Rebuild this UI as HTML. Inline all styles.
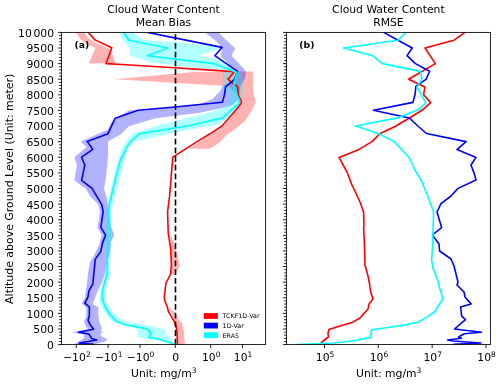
<!DOCTYPE html>
<html><head><meta charset="utf-8"><title>Cloud Water Content</title>
<style>html,body{margin:0;padding:0;background:#fff;}svg{display:block;}</style>
</head><body>
<svg width="500" height="385" viewBox="0 0 500 385" font-family="'DejaVu Sans', 'Liberation Sans', sans-serif">
<rect width="500" height="385" fill="#fff"/>
<defs><clipPath id="ca"><rect x="61.4" y="32.4" width="204.20000000000002" height="312.20000000000005"/></clipPath><clipPath id="cb"><rect x="286.4" y="32.4" width="204.0" height="312.20000000000005"/></clipPath></defs>
<g clip-path="url(#ca)">
<polygon points="75.8,32.4 80.8,39.6 89.8,45.6 95.5,47.8 88.8,63.4 115.7,63.2 110.2,49.2 93.0,41.5 88.0,38.0 83.8,32.4" fill="#ff0000" fill-opacity="0.3" stroke="none"/>
<polygon points="114.1,79.3 194.0,72.0 253.0,71.6 253.0,92.0 256.0,102.2 252.1,109.4 250.0,113.6 244.3,121.4 235.0,129.3 227.1,134.3 220.7,141.4 215.7,145.0 209.3,148.8 189.0,148.8 199.0,142.2 211.0,134.6 223.5,126.4 230.0,118.6 236.5,110.6 240.5,105.5 242.5,102.4 237.0,95.0 230.0,87.0 222.8,85.8" fill="#ff0000" fill-opacity="0.3" stroke="none"/>
<polygon points="170.6,235.1 174.5,243.7 180.0,265.5 175.2,274.8 170.6,274.0 171.4,264.0 170.6,248.4" fill="#ff0000" fill-opacity="0.3" stroke="none"/>
<polygon points="169.1,307.8 170.0,307.8 176.1,314.0 178.7,319.2 182.2,323.5 183.9,330.5 184.8,344.6 177.5,344.6 177.0,332.2 174.4,320.0 171.8,313.1" fill="#ff0000" fill-opacity="0.3" stroke="none"/>
<polygon points="204.6,32.4 218.4,32.4 225.6,39.4 235.2,48.4 231.6,55.8 246.0,71.2 245.6,75.6 244.4,79.2 242.0,83.6 240.4,86.8 239.5,94.0 239.0,100.0 230.3,106.1 200.0,112.7 155.6,118.2 128.8,126.2 120.8,134.2 108.0,141.4 108.0,155.0 107.2,165.2 105.6,180.4 104.0,188.4 106.4,196.4 108.0,204.4 111.2,227.4 114.4,235.1 110.9,241.8 110.4,251.4 107.5,262.0 104.0,276.0 101.6,283.2 97.6,291.2 94.4,299.2 92.8,304.0 98.4,307.2 98.4,316.0 99.2,322.0 102.0,328.4 100.4,330.8 102.8,332.2 100.0,334.0 102.0,336.8 107.6,339.2 105.2,341.6 94.0,344.6 74.0,344.6 83.6,338.4 84.4,334.8 71.6,332.2 88.0,329.2 86.0,326.8 84.0,322.0 86.4,315.2 86.4,308.0 81.6,303.2 84.8,298.4 85.6,292.0 87.2,282.4 88.0,272.8 90.0,262.0 93.6,256.2 99.2,245.0 101.6,235.1 97.6,227.4 100.0,211.4 98.4,204.4 90.4,196.4 85.6,188.4 74.4,180.4 76.8,165.2 74.4,157.2 86.4,147.0 80.8,141.4 108.0,129.4 111.2,122.2 128.8,110.2 138.0,110.2 174.8,107.0 200.0,104.0 211.9,99.5 219.8,91.6 222.8,85.8 232.4,81.2 236.8,73.2 237.0,71.2 220.8,56.8 222.0,47.2 214.8,40.0" fill="#0000ff" fill-opacity="0.3" stroke="none"/>
<polygon points="119.2,32.4 133.0,32.4 142.6,39.6 153.0,40.8 180.0,42.6 207.0,45.2 222.0,48.0 198.6,55.6 219.0,59.5 231.0,65.0 237.5,71.0 242.2,73.5 242.8,80.0 243.0,92.0 241.5,100.0 240.0,102.9 237.1,108.6 230.0,117.1 220.0,123.6 208.6,126.4 189.2,129.4 139.6,140.6 133.6,141.6 127.6,150.0 124.5,159.6 121.8,170.0 118.6,182.0 115.4,195.0 112.6,205.0 111.2,215.0 110.8,240.0 110.5,260.0 110.4,276.0 107.3,282.0 106.0,291.7 105.4,299.5 109.3,307.3 114.5,313.8 121.0,319.0 128.8,322.2 145.0,324.8 165.6,329.4 164.8,333.4 170.4,338.2 175.2,344.6 173.6,344.6 164.0,340.6 136.8,337.4 138.4,331.0 132.0,326.2 121.0,323.5 111.9,320.9 106.7,315.0 101.5,307.3 98.9,299.5 100.8,290.4 104.8,272.8 106.4,260.0 106.0,240.0 106.2,215.0 107.2,205.0 109.4,195.0 112.4,182.0 114.8,172.0 117.2,163.0 118.4,159.6 121.6,148.8 127.6,139.2 133.0,133.8 139.6,131.4 160.0,124.8 210.0,112.6 226.0,106.0 230.0,96.0 222.8,86.0 222.8,71.5 195.0,67.6 175.0,65.4 151.0,62.4 129.4,55.2 129.4,48.0 123.4,40.8" fill="#00ffff" fill-opacity="0.3" stroke="none"/>
<polyline points="88.3,32.4 95.0,39.9 111.8,47.8 106.1,63.6 130.0,65.0 170.0,67.5 215.0,70.4 234.3,71.8 228.0,79.2 232.0,82.8 237.6,86.6 238.3,94.9 241.6,102.4 239.5,105.5 235.4,110.4 228.7,118.2 222.0,126.0 210.0,133.8 197.1,141.6 184.9,149.4 172.8,157.1 169.7,195.0 167.6,211.6 168.2,232.8 170.6,248.4 171.4,264.0 170.6,274.0 165.9,283.4 164.3,297.4 164.8,300.9 167.4,307.0 168.3,311.3 171.8,317.4 174.4,321.8 176.1,326.1 177.0,332.2 177.5,344.6" fill="none" stroke="#ff0000" stroke-width="1.6" stroke-linejoin="round" stroke-linecap="butt"/>
<polyline points="147.5,32.4 222.0,47.4 214.8,55.7 237.2,71.1 236.8,73.2 234.8,78.8 232.4,81.2 225.6,86.8 224.4,94.9 222.4,102.2 174.8,107.0 138.0,110.2 115.2,118.2 108.0,133.7 87.2,141.4 92.8,149.4 81.6,157.2 84.8,165.2 81.6,180.4 92.0,188.4 96.8,196.4 101.6,204.4 103.2,211.4 100.8,227.4 105.6,235.1 102.4,243.4 100.8,251.4 95.2,259.4 94.4,268.0 92.8,284.0 88.8,291.2 88.0,296.8 84.8,303.2 89.4,307.0 89.4,315.4 88.0,320.3 90.0,324.4 93.6,329.2 78.4,332.2 88.8,334.0 90.4,336.4 91.6,338.4 96.8,340.0 79.2,343.0 94.0,344.4" fill="none" stroke="#0000ff" stroke-width="1.6" stroke-linejoin="round" stroke-linecap="butt"/>
<polyline points="123.6,32.4 128.8,40.2 167.8,48.0 147.4,55.8 213.6,63.6 236.8,72.4 236.4,75.6 235.2,79.2 233.6,86.8 237.0,94.9 239.6,100.8 238.3,104.1 230.3,110.7 222.9,117.9 188.6,125.7 139.6,133.6 131.2,141.0 126.4,147.6 123.0,155.0 120.5,159.6 117.6,169.9 114.6,181.6 111.6,195.0 109.2,205.0 108.2,215.0 107.6,240.0 107.2,260.0 107.2,269.6 105.6,279.2 103.5,286.0 102.3,292.0 102.1,298.8 104.7,306.0 109.3,313.8 116.4,321.6 124.9,324.8 145.0,328.4 147.2,329.4 151.2,333.4 148.8,337.4 160.8,339.8 175.2,344.6" fill="none" stroke="#00ffff" stroke-width="1.6" stroke-linejoin="round" stroke-linecap="butt"/>
<line x1="175.5" y1="344.6" x2="175.5" y2="32.4" stroke="#000" stroke-width="1.6" stroke-dasharray="5.8 2.9"/>
</g>
<g clip-path="url(#cb)">
<polyline points="464.8,32.4 454.0,40.2 425.0,48.0 435.4,63.6 408.6,79.2 424.8,87.0 423.6,94.8 430.7,102.6 422.0,110.3 409.4,118.0 395.0,126.5 379.7,133.7 372.0,141.6 359.0,149.4 339.0,157.4 347.0,172.0 352.0,185.0 360.0,202.0 363.6,212.0 364.0,225.0 363.6,228.0 364.4,244.0 365.0,265.0 368.0,276.0 369.6,284.0 370.4,291.0 373.0,299.0 369.0,304.0 368.0,309.0 360.0,318.0 352.0,322.6 340.0,326.0 329.0,329.4 328.0,333.0 328.4,337.0 322.0,342.0 320.0,344.6" fill="none" stroke="#ff0000" stroke-width="1.6" stroke-linejoin="round" stroke-linecap="butt"/>
<polyline points="383.6,32.4 398.0,40.2 412.2,48.0 407.0,55.6 415.4,63.6 429.6,71.2 426.0,79.4 415.8,86.4 415.2,93.8 413.0,102.4 373.4,110.3 409.4,118.0 418.4,126.5 426.5,133.5 466.0,141.6 457.0,149.6 476.0,157.4 471.0,165.0 474.0,172.9 476.0,180.0 458.0,188.4 451.0,196.0 441.0,203.6 437.0,212.0 441.6,227.6 432.4,235.0 439.0,244.0 439.6,251.0 451.0,259.0 454.0,266.0 458.0,282.0 457.0,285.0 464.0,292.0 465.0,297.0 471.1,303.9 460.6,307.0 461.7,316.1 465.5,319.6 454.5,329.0 481.5,332.2 464.5,333.8 460.0,336.0 458.5,337.2 461.5,338.2 447.5,340.0 453.0,341.0 481.0,343.0 453.5,344.4" fill="none" stroke="#0000ff" stroke-width="1.6" stroke-linejoin="round" stroke-linecap="butt"/>
<polyline points="405.8,32.4 398.0,40.2 343.4,48.0 372.8,55.8 382.5,63.6 420.6,71.4 421.8,79.3 417.0,87.0 425.8,102.9 418.4,109.6 398.6,117.6 355.4,126.0 378.8,133.7 394.0,141.6 404.0,152.0 409.0,157.3 415.0,170.0 422.0,182.0 430.0,202.0 433.6,212.0 433.0,230.0 432.6,245.0 431.6,260.0 433.0,268.0 438.0,281.0 439.6,288.0 443.0,299.0 442.8,299.0 438.0,306.2 435.6,311.0 427.6,316.6 418.0,322.2 406.8,324.6 386.0,327.8 371.6,329.9 370.8,334.2 371.0,337.4 352.0,341.0 334.0,343.0 296.0,344.6" fill="none" stroke="#00ffff" stroke-width="1.6" stroke-linejoin="round" stroke-linecap="butt"/>
</g>
<rect x="61.4" y="32.4" width="204.2" height="312.2" fill="none" stroke="#000" stroke-width="0.86"/>
<rect x="286.4" y="32.4" width="204.0" height="312.2" fill="none" stroke="#000" stroke-width="0.86"/>
<path d="M61.40 344.60h-3.5 M61.40 341.48h-2.2 M61.40 338.36h-2.2 M61.40 335.23h-2.2 M61.40 332.11h-2.2 M61.40 328.99h-3.5 M61.40 325.87h-2.2 M61.40 322.75h-2.2 M61.40 319.62h-2.2 M61.40 316.50h-2.2 M61.40 313.38h-3.5 M61.40 310.26h-2.2 M61.40 307.14h-2.2 M61.40 304.01h-2.2 M61.40 300.89h-2.2 M61.40 297.77h-3.5 M61.40 294.65h-2.2 M61.40 291.53h-2.2 M61.40 288.40h-2.2 M61.40 285.28h-2.2 M61.40 282.16h-3.5 M61.40 279.04h-2.2 M61.40 275.92h-2.2 M61.40 272.79h-2.2 M61.40 269.67h-2.2 M61.40 266.55h-3.5 M61.40 263.43h-2.2 M61.40 260.31h-2.2 M61.40 257.18h-2.2 M61.40 254.06h-2.2 M61.40 250.94h-3.5 M61.40 247.82h-2.2 M61.40 244.70h-2.2 M61.40 241.57h-2.2 M61.40 238.45h-2.2 M61.40 235.33h-3.5 M61.40 232.21h-2.2 M61.40 229.09h-2.2 M61.40 225.96h-2.2 M61.40 222.84h-2.2 M61.40 219.72h-3.5 M61.40 216.60h-2.2 M61.40 213.48h-2.2 M61.40 210.35h-2.2 M61.40 207.23h-2.2 M61.40 204.11h-3.5 M61.40 200.99h-2.2 M61.40 197.87h-2.2 M61.40 194.74h-2.2 M61.40 191.62h-2.2 M61.40 188.50h-3.5 M61.40 185.38h-2.2 M61.40 182.26h-2.2 M61.40 179.13h-2.2 M61.40 176.01h-2.2 M61.40 172.89h-3.5 M61.40 169.77h-2.2 M61.40 166.65h-2.2 M61.40 163.52h-2.2 M61.40 160.40h-2.2 M61.40 157.28h-3.5 M61.40 154.16h-2.2 M61.40 151.04h-2.2 M61.40 147.91h-2.2 M61.40 144.79h-2.2 M61.40 141.67h-3.5 M61.40 138.55h-2.2 M61.40 135.43h-2.2 M61.40 132.30h-2.2 M61.40 129.18h-2.2 M61.40 126.06h-3.5 M61.40 122.94h-2.2 M61.40 119.82h-2.2 M61.40 116.69h-2.2 M61.40 113.57h-2.2 M61.40 110.45h-3.5 M61.40 107.33h-2.2 M61.40 104.21h-2.2 M61.40 101.08h-2.2 M61.40 97.96h-2.2 M61.40 94.84h-3.5 M61.40 91.72h-2.2 M61.40 88.60h-2.2 M61.40 85.47h-2.2 M61.40 82.35h-2.2 M61.40 79.23h-3.5 M61.40 76.11h-2.2 M61.40 72.99h-2.2 M61.40 69.86h-2.2 M61.40 66.74h-2.2 M61.40 63.62h-3.5 M61.40 60.50h-2.2 M61.40 57.38h-2.2 M61.40 54.25h-2.2 M61.40 51.13h-2.2 M61.40 48.01h-3.5 M61.40 44.89h-2.2 M61.40 41.77h-2.2 M61.40 38.64h-2.2 M61.40 35.52h-2.2 M61.40 32.40h-3.5 M286.40 344.60h-3.5 M286.40 341.48h-2.2 M286.40 338.36h-2.2 M286.40 335.23h-2.2 M286.40 332.11h-2.2 M286.40 328.99h-3.5 M286.40 325.87h-2.2 M286.40 322.75h-2.2 M286.40 319.62h-2.2 M286.40 316.50h-2.2 M286.40 313.38h-3.5 M286.40 310.26h-2.2 M286.40 307.14h-2.2 M286.40 304.01h-2.2 M286.40 300.89h-2.2 M286.40 297.77h-3.5 M286.40 294.65h-2.2 M286.40 291.53h-2.2 M286.40 288.40h-2.2 M286.40 285.28h-2.2 M286.40 282.16h-3.5 M286.40 279.04h-2.2 M286.40 275.92h-2.2 M286.40 272.79h-2.2 M286.40 269.67h-2.2 M286.40 266.55h-3.5 M286.40 263.43h-2.2 M286.40 260.31h-2.2 M286.40 257.18h-2.2 M286.40 254.06h-2.2 M286.40 250.94h-3.5 M286.40 247.82h-2.2 M286.40 244.70h-2.2 M286.40 241.57h-2.2 M286.40 238.45h-2.2 M286.40 235.33h-3.5 M286.40 232.21h-2.2 M286.40 229.09h-2.2 M286.40 225.96h-2.2 M286.40 222.84h-2.2 M286.40 219.72h-3.5 M286.40 216.60h-2.2 M286.40 213.48h-2.2 M286.40 210.35h-2.2 M286.40 207.23h-2.2 M286.40 204.11h-3.5 M286.40 200.99h-2.2 M286.40 197.87h-2.2 M286.40 194.74h-2.2 M286.40 191.62h-2.2 M286.40 188.50h-3.5 M286.40 185.38h-2.2 M286.40 182.26h-2.2 M286.40 179.13h-2.2 M286.40 176.01h-2.2 M286.40 172.89h-3.5 M286.40 169.77h-2.2 M286.40 166.65h-2.2 M286.40 163.52h-2.2 M286.40 160.40h-2.2 M286.40 157.28h-3.5 M286.40 154.16h-2.2 M286.40 151.04h-2.2 M286.40 147.91h-2.2 M286.40 144.79h-2.2 M286.40 141.67h-3.5 M286.40 138.55h-2.2 M286.40 135.43h-2.2 M286.40 132.30h-2.2 M286.40 129.18h-2.2 M286.40 126.06h-3.5 M286.40 122.94h-2.2 M286.40 119.82h-2.2 M286.40 116.69h-2.2 M286.40 113.57h-2.2 M286.40 110.45h-3.5 M286.40 107.33h-2.2 M286.40 104.21h-2.2 M286.40 101.08h-2.2 M286.40 97.96h-2.2 M286.40 94.84h-3.5 M286.40 91.72h-2.2 M286.40 88.60h-2.2 M286.40 85.47h-2.2 M286.40 82.35h-2.2 M286.40 79.23h-3.5 M286.40 76.11h-2.2 M286.40 72.99h-2.2 M286.40 69.86h-2.2 M286.40 66.74h-2.2 M286.40 63.62h-3.5 M286.40 60.50h-2.2 M286.40 57.38h-2.2 M286.40 54.25h-2.2 M286.40 51.13h-2.2 M286.40 48.01h-3.5 M286.40 44.89h-2.2 M286.40 41.77h-2.2 M286.40 38.64h-2.2 M286.40 35.52h-2.2 M286.40 32.40h-3.5" stroke="#000" stroke-width="0.86" fill="none"/>
<path d="M76.29 344.6v3.5 M108.12 344.6v3.5 M139.95 344.6v3.5 M175.32 344.6v3.5 M210.69 344.6v3.5 M242.52 344.6v3.5 M324.50 344.6v3.5 M378.33 344.6v3.5 M432.16 344.6v3.5 M485.99 344.6v3.5" stroke="#000" stroke-width="0.86" fill="none"/>
<text x="53.9" y="349.00" font-size="10.8" text-anchor="end">0</text>
<text x="53.9" y="333.39" font-size="10.8" text-anchor="end">500</text>
<text x="53.9" y="317.78" font-size="10.8" text-anchor="end">1000</text>
<text x="53.9" y="302.17" font-size="10.8" text-anchor="end">1500</text>
<text x="53.9" y="286.56" font-size="10.8" text-anchor="end">2000</text>
<text x="53.9" y="270.95" font-size="10.8" text-anchor="end">2500</text>
<text x="53.9" y="255.34" font-size="10.8" text-anchor="end">3000</text>
<text x="53.9" y="239.73" font-size="10.8" text-anchor="end">3500</text>
<text x="53.9" y="224.12" font-size="10.8" text-anchor="end">4000</text>
<text x="53.9" y="208.51" font-size="10.8" text-anchor="end">4500</text>
<text x="53.9" y="192.90" font-size="10.8" text-anchor="end">5000</text>
<text x="53.9" y="177.29" font-size="10.8" text-anchor="end">5500</text>
<text x="53.9" y="161.68" font-size="10.8" text-anchor="end">6000</text>
<text x="53.9" y="146.07" font-size="10.8" text-anchor="end">6500</text>
<text x="53.9" y="130.46" font-size="10.8" text-anchor="end">7000</text>
<text x="53.9" y="114.85" font-size="10.8" text-anchor="end">7500</text>
<text x="53.9" y="99.24" font-size="10.8" text-anchor="end">8000</text>
<text x="53.9" y="83.63" font-size="10.8" text-anchor="end">8500</text>
<text x="53.9" y="68.02" font-size="10.8" text-anchor="end">9000</text>
<text x="53.9" y="52.41" font-size="10.8" text-anchor="end">9500</text>
<text x="54.0" y="36.80" font-size="10.8" text-anchor="end">10<tspan dx="1.6">000</tspan></text>
<text x="76.89" y="360.7" font-size="10.8" text-anchor="middle">−10<tspan dy="-3.7" font-size="7.56">2</tspan></text>
<text x="108.72" y="360.7" font-size="10.8" text-anchor="middle">−10<tspan dy="-3.7" font-size="7.56">1</tspan></text>
<text x="140.55" y="360.7" font-size="10.8" text-anchor="middle">−10<tspan dy="-3.7" font-size="7.56">0</tspan></text>
<text x="175.62" y="360.7" font-size="10.8" text-anchor="middle">0</text>
<text x="211.29" y="360.7" font-size="10.8" text-anchor="middle">10<tspan dy="-3.7" font-size="7.56">0</tspan></text>
<text x="243.12" y="360.7" font-size="10.8" text-anchor="middle">10<tspan dy="-3.7" font-size="7.56">1</tspan></text>
<text x="325.10" y="360.7" font-size="10.8" text-anchor="middle">10<tspan dy="-3.7" font-size="7.56">5</tspan></text>
<text x="378.93" y="360.7" font-size="10.8" text-anchor="middle">10<tspan dy="-3.7" font-size="7.56">6</tspan></text>
<text x="432.76" y="360.7" font-size="10.8" text-anchor="middle">10<tspan dy="-3.7" font-size="7.56">7</tspan></text>
<text x="486.59" y="360.7" font-size="10.8" text-anchor="middle">10<tspan dy="-3.7" font-size="7.56">8</tspan></text>
<text x="163.80" y="377" font-size="10.8" text-anchor="middle">Unit: mg/m<tspan dy="-3.7" font-size="7.56">3</tspan></text>
<text x="388.70" y="377" font-size="10.8" text-anchor="middle">Unit: mg/m<tspan dy="-3.7" font-size="7.56">3</tspan></text>
<text x="163.50" y="13.4" font-size="10.8" text-anchor="middle">Cloud Water Content</text>
<text x="163.50" y="25.6" font-size="10.8" text-anchor="middle">Mean Bias</text>
<text x="388.40" y="13.4" font-size="10.8" text-anchor="middle">Cloud Water Content</text>
<text x="388.40" y="25.6" font-size="10.8" text-anchor="middle">RMSE</text>
<text transform="translate(13.3 188.8) rotate(-90)" font-size="10.95" text-anchor="middle">Altitude above Ground Level (Unit: meter)</text>
<text x="74.5" y="48.2" font-size="9.3" font-weight="bold">(a)</text>
<text x="299.3" y="48.2" font-size="9.3" font-weight="bold">(b)</text>
<rect x="203.8" y="313.10" width="14.1" height="5.8" fill="#ff0000"/>
<text x="222.6" y="318.40" font-size="6.35">TCKF1D-Var</text>
<rect x="203.8" y="322.70" width="14.1" height="5.8" fill="#0000ff"/>
<text x="222.6" y="328.00" font-size="6.35">1D-Var</text>
<rect x="203.8" y="332.30" width="14.1" height="5.8" fill="#00ffff"/>
<text x="222.6" y="337.60" font-size="6.35">ERA5</text>
</svg>
</body></html>
